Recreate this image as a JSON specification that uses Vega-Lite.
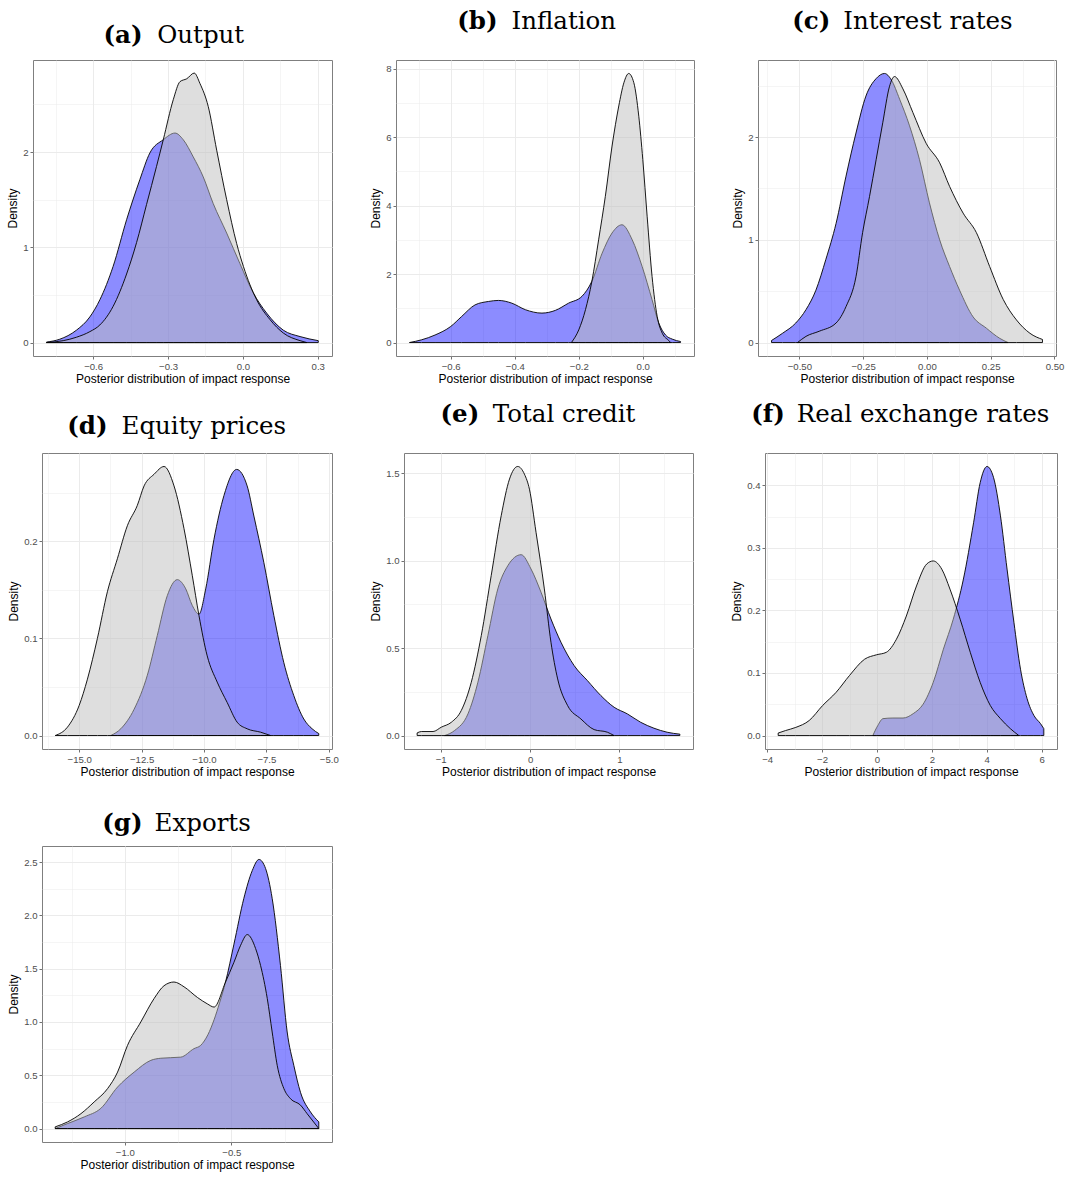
{
"$schema": "https://vega.github.io/schema/vega-lite/v6.json",
"background": "white",
"padding": {"left": 6, "top": 7, "right": 5, "bottom": 5},
"datasets": {
"a": [
{"dist":"D1","x":-0.787,"y":0.005},{"dist":"D1","x":-0.734,"y":0.035},{"dist":"D1","x":-0.667,"y":0.13},{"dist":"D1","x":-0.613,"y":0.27},{"dist":"D1","x":-0.573,"y":0.45},{"dist":"D1","x":-0.52,"y":0.80},{"dist":"D1","x":-0.466,"y":1.29},{"dist":"D1","x":-0.413,"y":1.71},{"dist":"D1","x":-0.373,"y":1.99},{"dist":"D1","x":-0.319,"y":2.13},{"dist":"D1","x":-0.272,"y":2.20},{"dist":"D1","x":-0.239,"y":2.13},{"dist":"D1","x":-0.199,"y":1.95},{"dist":"D1","x":-0.159,"y":1.74},{"dist":"D1","x":-0.119,"y":1.46},{"dist":"D1","x":-0.065,"y":1.15},{"dist":"D1","x":-0.012,"y":0.83},{"dist":"D1","x":0.042,"y":0.52},{"dist":"D1","x":0.095,"y":0.31},{"dist":"D1","x":0.162,"y":0.13},{"dist":"D1","x":0.229,"y":0.063},{"dist":"D1","x":0.302,"y":0.02},
{"dist":"D2","x":-0.787,"y":0.0},{"dist":"D2","x":-0.72,"y":0.02},{"dist":"D2","x":-0.667,"y":0.056},{"dist":"D2","x":-0.613,"y":0.115},{"dist":"D2","x":-0.573,"y":0.185},{"dist":"D2","x":-0.52,"y":0.38},{"dist":"D2","x":-0.466,"y":0.72},{"dist":"D2","x":-0.426,"y":1.05},{"dist":"D2","x":-0.386,"y":1.45},{"dist":"D2","x":-0.346,"y":1.85},{"dist":"D2","x":-0.319,"y":2.13},{"dist":"D2","x":-0.279,"y":2.55},{"dist":"D2","x":-0.252,"y":2.74},{"dist":"D2","x":-0.225,"y":2.77},{"dist":"D2","x":-0.195,"y":2.83},{"dist":"D2","x":-0.172,"y":2.72},{"dist":"D2","x":-0.139,"y":2.48},{"dist":"D2","x":-0.105,"y":2.02},{"dist":"D2","x":-0.065,"y":1.50},{"dist":"D2","x":-0.025,"y":1.04},{"dist":"D2","x":0.002,"y":0.80},{"dist":"D2","x":0.055,"y":0.45},{"dist":"D2","x":0.109,"y":0.24},{"dist":"D2","x":0.162,"y":0.10},{"dist":"D2","x":0.229,"y":0.02},{"dist":"D2","x":0.256,"y":0.0}
],
"b": [
{"dist":"D1","x":-0.729,"y":0.0},{"dist":"D1","x":-0.691,"y":0.08},{"dist":"D1","x":-0.649,"y":0.22},{"dist":"D1","x":-0.6,"y":0.47},{"dist":"D1","x":-0.566,"y":0.76},{"dist":"D1","x":-0.524,"y":1.10},{"dist":"D1","x":-0.482,"y":1.20},{"dist":"D1","x":-0.451,"y":1.23},{"dist":"D1","x":-0.409,"y":1.15},{"dist":"D1","x":-0.367,"y":0.96},{"dist":"D1","x":-0.315,"y":0.86},{"dist":"D1","x":-0.273,"y":0.94},{"dist":"D1","x":-0.232,"y":1.15},{"dist":"D1","x":-0.19,"y":1.35},{"dist":"D1","x":-0.159,"y":1.79},{"dist":"D1","x":-0.127,"y":2.61},{"dist":"D1","x":-0.096,"y":3.2},{"dist":"D1","x":-0.065,"y":3.44},{"dist":"D1","x":-0.033,"y":3.0},{"dist":"D1","x":-0.002,"y":2.22},{"dist":"D1","x":0.029,"y":1.25},{"dist":"D1","x":0.05,"y":0.57},{"dist":"D1","x":0.071,"y":0.22},{"dist":"D1","x":0.092,"y":0.10},{"dist":"D1","x":0.118,"y":0.03},
{"dist":"D2","x":-0.223,"y":0.0},{"dist":"D2","x":-0.2,"y":0.37},{"dist":"D2","x":-0.179,"y":0.96},{"dist":"D2","x":-0.159,"y":1.79},{"dist":"D2","x":-0.138,"y":3.0},{"dist":"D2","x":-0.117,"y":4.27},{"dist":"D2","x":-0.096,"y":5.74},{"dist":"D2","x":-0.075,"y":6.91},{"dist":"D2","x":-0.059,"y":7.59},{"dist":"D2","x":-0.044,"y":7.86},{"dist":"D2","x":-0.028,"y":7.59},{"dist":"D2","x":-0.0125,"y":6.61},{"dist":"D2","x":0.0,"y":5.35},{"dist":"D2","x":0.0136,"y":3.69},{"dist":"D2","x":0.029,"y":1.93},{"dist":"D2","x":0.045,"y":0.76},{"dist":"D2","x":0.061,"y":0.27},{"dist":"D2","x":0.081,"y":0.06},{"dist":"D2","x":0.087,"y":0.0}
],
"c": [
{"dist":"D1","x":-0.609,"y":0.02},{"dist":"D1","x":-0.566,"y":0.09},{"dist":"D1","x":-0.514,"y":0.19},{"dist":"D1","x":-0.474,"y":0.32},{"dist":"D1","x":-0.435,"y":0.51},{"dist":"D1","x":-0.396,"y":0.81},{"dist":"D1","x":-0.356,"y":1.16},{"dist":"D1","x":-0.317,"y":1.62},{"dist":"D1","x":-0.278,"y":2.04},{"dist":"D1","x":-0.239,"y":2.40},{"dist":"D1","x":-0.199,"y":2.57},{"dist":"D1","x":-0.166,"y":2.62},{"dist":"D1","x":-0.14,"y":2.56},{"dist":"D1","x":-0.107,"y":2.37},{"dist":"D1","x":-0.068,"y":2.11},{"dist":"D1","x":-0.029,"y":1.78},{"dist":"D1","x":0.01,"y":1.36},{"dist":"D1","x":0.05,"y":1.0},{"dist":"D1","x":0.089,"y":0.74},{"dist":"D1","x":0.128,"y":0.51},{"dist":"D1","x":0.181,"y":0.25},{"dist":"D1","x":0.233,"y":0.14},{"dist":"D1","x":0.286,"y":0.04},{"dist":"D1","x":0.318,"y":0.0},
{"dist":"D2","x":-0.507,"y":0.0},{"dist":"D2","x":-0.474,"y":0.06},{"dist":"D2","x":-0.422,"y":0.11},{"dist":"D2","x":-0.356,"y":0.19},{"dist":"D2","x":-0.317,"y":0.35},{"dist":"D2","x":-0.278,"y":0.64},{"dist":"D2","x":-0.252,"y":1.07},{"dist":"D2","x":-0.225,"y":1.42},{"dist":"D2","x":-0.199,"y":1.78},{"dist":"D2","x":-0.173,"y":2.14},{"dist":"D2","x":-0.147,"y":2.49},{"dist":"D2","x":-0.127,"y":2.59},{"dist":"D2","x":-0.094,"y":2.47},{"dist":"D2","x":-0.055,"y":2.24},{"dist":"D2","x":-0.003,"y":1.94},{"dist":"D2","x":0.05,"y":1.75},{"dist":"D2","x":0.089,"y":1.52},{"dist":"D2","x":0.142,"y":1.26},{"dist":"D2","x":0.194,"y":1.07},{"dist":"D2","x":0.246,"y":0.74},{"dist":"D2","x":0.299,"y":0.42},{"dist":"D2","x":0.351,"y":0.22},{"dist":"D2","x":0.404,"y":0.09},{"dist":"D2","x":0.453,"y":0.03}
],
"d": [
{"dist":"D1","x":-13.73,"y":0.0},{"dist":"D1","x":-13.33,"y":0.007},{"dist":"D1","x":-12.8,"y":0.027},{"dist":"D1","x":-12.27,"y":0.062},{"dist":"D1","x":-11.87,"y":0.103},{"dist":"D1","x":-11.47,"y":0.144},{"dist":"D1","x":-11.07,"y":0.1605},{"dist":"D1","x":-10.73,"y":0.151},{"dist":"D1","x":-10.47,"y":0.134},{"dist":"D1","x":-10.2,"y":0.125},{"dist":"D1","x":-9.93,"y":0.151},{"dist":"D1","x":-9.6,"y":0.202},{"dist":"D1","x":-9.2,"y":0.247},{"dist":"D1","x":-8.69,"y":0.274},{"dist":"D1","x":-8.27,"y":0.257},{"dist":"D1","x":-8.0,"y":0.226},{"dist":"D1","x":-7.6,"y":0.178},{"dist":"D1","x":-7.2,"y":0.1235},{"dist":"D1","x":-6.8,"y":0.075},{"dist":"D1","x":-6.4,"y":0.041},{"dist":"D1","x":-6.0,"y":0.017},{"dist":"D1","x":-5.67,"y":0.007},{"dist":"D1","x":-5.4,"y":0.002},
{"dist":"D2","x":-15.96,"y":0.0},{"dist":"D2","x":-15.47,"y":0.0086},{"dist":"D2","x":-15.0,"y":0.031},{"dist":"D2","x":-14.67,"y":0.058},{"dist":"D2","x":-14.27,"y":0.10},{"dist":"D2","x":-13.87,"y":0.148},{"dist":"D2","x":-13.47,"y":0.182},{"dist":"D2","x":-13.07,"y":0.216},{"dist":"D2","x":-12.67,"y":0.237},{"dist":"D2","x":-12.4,"y":0.257},{"dist":"D2","x":-12.0,"y":0.269},{"dist":"D2","x":-11.6,"y":0.277},{"dist":"D2","x":-11.2,"y":0.257},{"dist":"D2","x":-10.8,"y":0.213},{"dist":"D2","x":-10.47,"y":0.165},{"dist":"D2","x":-10.2,"y":0.1235},{"dist":"D2","x":-9.87,"y":0.082},{"dist":"D2","x":-9.47,"y":0.055},{"dist":"D2","x":-9.07,"y":0.034},{"dist":"D2","x":-8.67,"y":0.0137},{"dist":"D2","x":-8.27,"y":0.0069},{"dist":"D2","x":-7.73,"y":0.0034},{"dist":"D2","x":-7.33,"y":0.0}
],
"e": [
{"dist":"D1","x":-0.955,"y":0.0},{"dist":"D1","x":-0.844,"y":0.029},{"dist":"D1","x":-0.695,"y":0.124},{"dist":"D1","x":-0.584,"y":0.305},{"dist":"D1","x":-0.472,"y":0.572},{"dist":"D1","x":-0.361,"y":0.839},{"dist":"D1","x":-0.249,"y":0.972},{"dist":"D1","x":-0.1,"y":1.035},{"dist":"D1","x":0.011,"y":0.953},{"dist":"D1","x":0.123,"y":0.82},{"dist":"D1","x":0.234,"y":0.667},{"dist":"D1","x":0.346,"y":0.534},{"dist":"D1","x":0.494,"y":0.40},{"dist":"D1","x":0.643,"y":0.314},{"dist":"D1","x":0.792,"y":0.229},{"dist":"D1","x":0.941,"y":0.162},{"dist":"D1","x":1.089,"y":0.124},{"dist":"D1","x":1.238,"y":0.076},{"dist":"D1","x":1.387,"y":0.042},{"dist":"D1","x":1.535,"y":0.019},{"dist":"D1","x":1.677,"y":0.008},
{"dist":"D2","x":-1.264,"y":0.015},{"dist":"D2","x":-1.216,"y":0.023},{"dist":"D2","x":-1.086,"y":0.023},{"dist":"D2","x":-0.993,"y":0.048},{"dist":"D2","x":-0.881,"y":0.076},{"dist":"D2","x":-0.77,"y":0.143},{"dist":"D2","x":-0.658,"y":0.305},{"dist":"D2","x":-0.546,"y":0.572},{"dist":"D2","x":-0.435,"y":0.915},{"dist":"D2","x":-0.323,"y":1.258},{"dist":"D2","x":-0.23,"y":1.468},{"dist":"D2","x":-0.138,"y":1.54},{"dist":"D2","x":-0.063,"y":1.496},{"dist":"D2","x":-0.007,"y":1.41},{"dist":"D2","x":0.067,"y":1.163},{"dist":"D2","x":0.16,"y":0.839},{"dist":"D2","x":0.234,"y":0.534},{"dist":"D2","x":0.309,"y":0.324},{"dist":"D2","x":0.42,"y":0.172},{"dist":"D2","x":0.569,"y":0.095},{"dist":"D2","x":0.717,"y":0.034},{"dist":"D2","x":0.866,"y":0.019},{"dist":"D2","x":0.94,"y":0.0}
],
"f": [
{"dist":"D1","x":-0.15,"y":0.0},{"dist":"D1","x":0.03,"y":0.016},{"dist":"D1","x":0.22,"y":0.027},{"dist":"D1","x":0.58,"y":0.028},{"dist":"D1","x":0.95,"y":0.028},{"dist":"D1","x":1.32,"y":0.035},{"dist":"D1","x":1.68,"y":0.05},{"dist":"D1","x":2.05,"y":0.085},{"dist":"D1","x":2.42,"y":0.138},{"dist":"D1","x":2.78,"y":0.186},{"dist":"D1","x":3.15,"y":0.25},{"dist":"D1","x":3.52,"y":0.34},{"dist":"D1","x":3.76,"y":0.404},{"dist":"D1","x":4.01,"y":0.43},{"dist":"D1","x":4.25,"y":0.412},{"dist":"D1","x":4.5,"y":0.351},{"dist":"D1","x":4.74,"y":0.266},{"dist":"D1","x":4.99,"y":0.181},{"dist":"D1","x":5.23,"y":0.106},{"dist":"D1","x":5.47,"y":0.059},{"dist":"D1","x":5.72,"y":0.032},{"dist":"D1","x":5.96,"y":0.019},{"dist":"D1","x":6.08,"y":0.011},
{"dist":"D2","x":-3.6,"y":0.004},{"dist":"D2","x":-3.33,"y":0.008},{"dist":"D2","x":-2.96,"y":0.013},{"dist":"D2","x":-2.47,"y":0.024},{"dist":"D2","x":-1.98,"y":0.048},{"dist":"D2","x":-1.49,"y":0.069},{"dist":"D2","x":-1.0,"y":0.096},{"dist":"D2","x":-0.45,"y":0.122},{"dist":"D2","x":-0.02,"y":0.129},{"dist":"D2","x":0.34,"y":0.133},{"dist":"D2","x":0.71,"y":0.154},{"dist":"D2","x":1.07,"y":0.191},{"dist":"D2","x":1.44,"y":0.239},{"dist":"D2","x":1.81,"y":0.274},{"dist":"D2","x":2.05,"y":0.279},{"dist":"D2","x":2.36,"y":0.266},{"dist":"D2","x":2.66,"y":0.234},{"dist":"D2","x":3.03,"y":0.186},{"dist":"D2","x":3.4,"y":0.133},{"dist":"D2","x":3.76,"y":0.085},{"dist":"D2","x":4.13,"y":0.048},{"dist":"D2","x":4.5,"y":0.027},{"dist":"D2","x":4.86,"y":0.011},{"dist":"D2","x":5.17,"y":0.0}
],
"g": [
{"dist":"D1","x":-1.327,"y":0.0},{"dist":"D1","x":-1.269,"y":0.047},{"dist":"D1","x":-1.19,"y":0.11},{"dist":"D1","x":-1.1125,"y":0.19},{"dist":"D1","x":-1.034,"y":0.39},{"dist":"D1","x":-0.956,"y":0.53},{"dist":"D1","x":-0.878,"y":0.64},{"dist":"D1","x":-0.831,"y":0.66},{"dist":"D1","x":-0.7375,"y":0.67},{"dist":"D1","x":-0.675,"y":0.75},{"dist":"D1","x":-0.644,"y":0.78},{"dist":"D1","x":-0.61,"y":0.88},{"dist":"D1","x":-0.581,"y":1.02},{"dist":"D1","x":-0.555,"y":1.18},{"dist":"D1","x":-0.527,"y":1.375},{"dist":"D1","x":-0.4875,"y":1.73},{"dist":"D1","x":-0.441,"y":2.16},{"dist":"D1","x":-0.4016,"y":2.42},{"dist":"D1","x":-0.37,"y":2.525},{"dist":"D1","x":-0.339,"y":2.44},{"dist":"D1","x":-0.308,"y":2.16},{"dist":"D1","x":-0.269,"y":1.53},{"dist":"D1","x":-0.2375,"y":0.906},{"dist":"D1","x":-0.206,"y":0.59},{"dist":"D1","x":-0.175,"y":0.34},{"dist":"D1","x":-0.128,"y":0.156},{"dist":"D1","x":-0.089,"y":0.0625},
{"dist":"D2","x":-1.327,"y":0.016},{"dist":"D2","x":-1.269,"y":0.0625},{"dist":"D2","x":-1.206,"y":0.14},{"dist":"D2","x":-1.144,"y":0.25},{"dist":"D2","x":-1.081,"y":0.375},{"dist":"D2","x":-1.034,"y":0.53},{"dist":"D2","x":-0.9875,"y":0.78},{"dist":"D2","x":-0.925,"y":1.0},{"dist":"D2","x":-0.8625,"y":1.22},{"dist":"D2","x":-0.816,"y":1.34},{"dist":"D2","x":-0.769,"y":1.375},{"dist":"D2","x":-0.722,"y":1.33},{"dist":"D2","x":-0.659,"y":1.23},{"dist":"D2","x":-0.6125,"y":1.17},{"dist":"D2","x":-0.581,"y":1.14},{"dist":"D2","x":-0.527,"y":1.375},{"dist":"D2","x":-0.4875,"y":1.56},{"dist":"D2","x":-0.456,"y":1.72},{"dist":"D2","x":-0.425,"y":1.82},{"dist":"D2","x":-0.386,"y":1.69},{"dist":"D2","x":-0.3625,"y":1.53},{"dist":"D2","x":-0.331,"y":1.22},{"dist":"D2","x":-0.308,"y":0.906},{"dist":"D2","x":-0.284,"y":0.59},{"dist":"D2","x":-0.253,"y":0.375},{"dist":"D2","x":-0.222,"y":0.28},{"dist":"D2","x":-0.175,"y":0.22},{"dist":"D2","x":-0.144,"y":0.14},{"dist":"D2","x":-0.089,"y":0.0}
]
},
"concat": [
{
"concat": [
{
"hconcat": [
{
"width": 299, "height": 296,
"data": {"name": "a"},
"resolve": {"axis": {"x": "independent", "y": "independent"}},
"layer": [
{"transform": [{"filter": "datum.dist == 'D1'"}],
 "mark": {"type": "area", "interpolate": "monotone", "fill": "#0000ff", "fillOpacity": 0.45, "stroke": "#000000", "strokeWidth": 0.9},
 "encoding": {
 "x": {"field": "x", "type": "quantitative", "scale": {"domain": [-0.841, 0.357], "nice": false, "zero": false},
  "axis": {"title": "Posterior distribution of impact response", "values": [-0.75, -0.6, -0.45, -0.3, -0.15, 0, 0.15, 0.3],
  "labelExpr": "indexof([-0.6,-0.3,0,0.3], datum.value) >= 0 ? format(datum.value, '.1f') : ''",
  "tickOpacity": {"condition": {"test": "indexof([-0.6,-0.3,0,0.3], datum.value) < 0", "value": 0}, "value": 1},
  "gridWidth": {"condition": {"test": "indexof([-0.6,-0.3,0,0.3], datum.value) < 0", "value": 0.5}, "value": 1}}},
 "y": {"field": "y", "type": "quantitative", "scale": {"domain": [-0.141, 2.967], "nice": false, "zero": false},
  "axis": {"title": "Density", "values": [0, 0.5, 1, 1.5, 2, 2.5],
  "labelExpr": "indexof([0,1,2], datum.value) >= 0 ? format(datum.value, 'd') : ''",
  "tickOpacity": {"condition": {"test": "indexof([0,1,2], datum.value) < 0", "value": 0}, "value": 1},
  "gridWidth": {"condition": {"test": "indexof([0,1,2], datum.value) < 0", "value": 0.5}, "value": 1}}},
 "y2": {"datum": 0}}},
{"transform": [{"filter": "datum.dist == 'D2'"}],
 "mark": {"type": "area", "interpolate": "monotone", "fill": "#bebebe", "fillOpacity": 0.5, "stroke": "#000000", "strokeWidth": 0.9},
 "encoding": {
 "x": {"field": "x", "type": "quantitative", "scale": {"domain": [-0.841, 0.357], "nice": false, "zero": false},
  "axis": {"orient": "top", "title": "Output", "labels": false, "ticks": false, "grid": false, "style": "wordtitle", "titleX": 123.7, "titleY": -17.3}},
 "y": {"field": "y", "type": "quantitative", "scale": {"domain": [-0.141, 2.967], "nice": false, "zero": false},
  "axis": {"orient": "right", "title": "(a)", "labels": false, "ticks": false, "grid": false, "style": "boldtitle", "titleX": -229, "titleY": -17.3}},
 "y2": {"datum": 0}}}
]
},
{
"width": 298, "height": 296,
"data": {"name": "b"},
"resolve": {"axis": {"x": "independent", "y": "independent"}},
"layer": [
{"transform": [{"filter": "datum.dist == 'D1'"}],
 "mark": {"type": "area", "interpolate": "monotone", "fill": "#0000ff", "fillOpacity": 0.45, "stroke": "#000000", "strokeWidth": 0.9},
 "encoding": {
 "x": {"field": "x", "type": "quantitative", "scale": {"domain": [-0.771, 0.160], "nice": false, "zero": false},
  "axis": {"title": "Posterior distribution of impact response", "values": [-0.7, -0.6, -0.5, -0.4, -0.3, -0.2, -0.1, 0, 0.1],
  "labelExpr": "indexof([-0.6,-0.4,-0.2,0], datum.value) >= 0 ? format(datum.value, '.1f') : ''",
  "tickOpacity": {"condition": {"test": "indexof([-0.6,-0.4,-0.2,0], datum.value) < 0", "value": 0}, "value": 1},
  "gridWidth": {"condition": {"test": "indexof([-0.6,-0.4,-0.2,0], datum.value) < 0", "value": 0.5}, "value": 1}}},
 "y": {"field": "y", "type": "quantitative", "scale": {"domain": [-0.393, 8.253], "nice": false, "zero": false},
  "axis": {"title": "Density", "values": [0, 1, 2, 3, 4, 5, 6, 7, 8],
  "labelExpr": "indexof([0,2,4,6,8], datum.value) >= 0 ? format(datum.value, 'd') : ''",
  "tickOpacity": {"condition": {"test": "indexof([0,2,4,6,8], datum.value) < 0", "value": 0}, "value": 1},
  "gridWidth": {"condition": {"test": "indexof([0,2,4,6,8], datum.value) < 0", "value": 0.5}, "value": 1}}},
 "y2": {"datum": 0}}},
{"transform": [{"filter": "datum.dist == 'D2'"}],
 "mark": {"type": "area", "interpolate": "monotone", "fill": "#bebebe", "fillOpacity": 0.5, "stroke": "#000000", "strokeWidth": 0.9},
 "encoding": {
 "x": {"field": "x", "type": "quantitative", "scale": {"domain": [-0.771, 0.160], "nice": false, "zero": false},
  "axis": {"orient": "top", "title": "Inflation", "labels": false, "ticks": false, "grid": false, "style": "wordtitle", "titleX": 115, "titleY": -31.7}},
 "y": {"field": "y", "type": "quantitative", "scale": {"domain": [-0.393, 8.253], "nice": false, "zero": false},
  "axis": {"orient": "right", "title": "(b)", "labels": false, "ticks": false, "grid": false, "style": "boldtitle", "titleX": -237.3, "titleY": -31.7}},
 "y2": {"datum": 0}}}
]
},
{
"width": 298, "height": 296,
"data": {"name": "c"},
"resolve": {"axis": {"x": "independent", "y": "independent"}},
"layer": [
{"transform": [{"filter": "datum.dist == 'D1'"}],
 "mark": {"type": "area", "interpolate": "monotone", "fill": "#0000ff", "fillOpacity": 0.45, "stroke": "#000000", "strokeWidth": 0.9},
 "encoding": {
 "x": {"field": "x", "type": "quantitative", "scale": {"domain": [-0.662, 0.506], "nice": false, "zero": false},
  "axis": {"title": "Posterior distribution of impact response", "values": [-0.625, -0.5, -0.375, -0.25, -0.125, 0, 0.125, 0.25, 0.375, 0.5],
  "labelExpr": "indexof([-0.5,-0.25,0,0.25,0.5], datum.value) >= 0 ? format(datum.value, '.2f') : ''",
  "tickOpacity": {"condition": {"test": "indexof([-0.5,-0.25,0,0.25,0.5], datum.value) < 0", "value": 0}, "value": 1},
  "gridWidth": {"condition": {"test": "indexof([-0.5,-0.25,0,0.25,0.5], datum.value) < 0", "value": 0.5}, "value": 1}}},
 "y": {"field": "y", "type": "quantitative", "scale": {"domain": [-0.131, 2.751], "nice": false, "zero": false},
  "axis": {"title": "Density", "values": [0, 0.5, 1, 1.5, 2, 2.5],
  "labelExpr": "indexof([0,1,2], datum.value) >= 0 ? format(datum.value, 'd') : ''",
  "tickOpacity": {"condition": {"test": "indexof([0,1,2], datum.value) < 0", "value": 0}, "value": 1},
  "gridWidth": {"condition": {"test": "indexof([0,1,2], datum.value) < 0", "value": 0.5}, "value": 1}}},
 "y2": {"datum": 0}}},
{"transform": [{"filter": "datum.dist == 'D2'"}],
 "mark": {"type": "area", "interpolate": "monotone", "fill": "#bebebe", "fillOpacity": 0.5, "stroke": "#000000", "strokeWidth": 0.9},
 "encoding": {
 "x": {"field": "x", "type": "quantitative", "scale": {"domain": [-0.662, 0.506], "nice": false, "zero": false},
  "axis": {"orient": "top", "title": "Interest rates", "labels": false, "ticks": false, "grid": false, "style": "wordtitle", "titleX": 84.7, "titleY": -31.7}},
 "y": {"field": "y", "type": "quantitative", "scale": {"domain": [-0.131, 2.751], "nice": false, "zero": false},
  "axis": {"orient": "right", "title": "(c)", "labels": false, "ticks": false, "grid": false, "style": "boldtitle", "titleX": -264.3, "titleY": -31.7}},
 "y2": {"datum": 0}}}
]
}
],
"spacing": 64, "bounds": "flush"
},
{
"hconcat": [
{"width": 1, "height": 1, "data": {"values": []}, "mark": "point", "encoding": {}, "view": {"stroke": null}},
{
"hconcat": [
{
"width": 290, "height": 296,
"data": {"name": "d"},
"resolve": {"axis": {"x": "independent", "y": "independent"}},
"layer": [
{"transform": [{"filter": "datum.dist == 'D1'"}],
 "mark": {"type": "area", "interpolate": "monotone", "fill": "#0000ff", "fillOpacity": 0.45, "stroke": "#000000", "strokeWidth": 0.9},
 "encoding": {
 "x": {"field": "x", "type": "quantitative", "scale": {"domain": [-16.49, -4.87], "nice": false, "zero": false},
  "axis": {"title": "Posterior distribution of impact response", "values": [-16.25, -15, -13.75, -12.5, -11.25, -10, -8.75, -7.5, -6.25, -5],
  "labelExpr": "indexof([-15,-12.5,-10,-7.5,-5], datum.value) >= 0 ? format(datum.value, '.1f') : ''",
  "tickOpacity": {"condition": {"test": "indexof([-15,-12.5,-10,-7.5,-5], datum.value) < 0", "value": 0}, "value": 1},
  "gridWidth": {"condition": {"test": "indexof([-15,-12.5,-10,-7.5,-5], datum.value) < 0", "value": 0.5}, "value": 1}}},
 "y": {"field": "y", "type": "quantitative", "scale": {"domain": [-0.0139, 0.2909], "nice": false, "zero": false},
  "axis": {"title": "Density", "values": [0, 0.05, 0.1, 0.15, 0.2, 0.25],
  "labelExpr": "indexof([0,0.1,0.2], datum.value) >= 0 ? format(datum.value, '.1f') : ''",
  "tickOpacity": {"condition": {"test": "indexof([0,0.1,0.2], datum.value) < 0", "value": 0}, "value": 1},
  "gridWidth": {"condition": {"test": "indexof([0,0.1,0.2], datum.value) < 0", "value": 0.5}, "value": 1}}},
 "y2": {"datum": 0}}},
{"transform": [{"filter": "datum.dist == 'D2'"}],
 "mark": {"type": "area", "interpolate": "monotone", "fill": "#bebebe", "fillOpacity": 0.5, "stroke": "#000000", "strokeWidth": 0.9},
 "encoding": {
 "x": {"field": "x", "type": "quantitative", "scale": {"domain": [-16.49, -4.87], "nice": false, "zero": false},
  "axis": {"orient": "top", "title": "Equity prices", "labels": false, "ticks": false, "grid": false, "style": "wordtitle", "titleX": 79, "titleY": -19.7}},
 "y": {"field": "y", "type": "quantitative", "scale": {"domain": [-0.0139, 0.2909], "nice": false, "zero": false},
  "axis": {"orient": "right", "title": "(d)", "labels": false, "ticks": false, "grid": false, "style": "boldtitle", "titleX": -265.3, "titleY": -19.7}},
 "y2": {"datum": 0}}}
]
},
{
"width": 289, "height": 296,
"data": {"name": "e"},
"resolve": {"axis": {"x": "independent", "y": "independent"}},
"layer": [
{"transform": [{"filter": "datum.dist == 'D1'"}],
 "mark": {"type": "area", "interpolate": "monotone", "fill": "#0000ff", "fillOpacity": 0.45, "stroke": "#000000", "strokeWidth": 0.9},
 "encoding": {
 "x": {"field": "x", "type": "quantitative", "scale": {"domain": [-1.411, 1.824], "nice": false, "zero": false},
  "axis": {"title": "Posterior distribution of impact response", "values": [-1, -0.5, 0, 0.5, 1, 1.5],
  "labelExpr": "indexof([-1,0,1], datum.value) >= 0 ? format(datum.value, 'd') : ''",
  "tickOpacity": {"condition": {"test": "indexof([-1,0,1], datum.value) < 0", "value": 0}, "value": 1},
  "gridWidth": {"condition": {"test": "indexof([-1,0,1], datum.value) < 0", "value": 0.5}, "value": 1}}},
 "y": {"field": "y", "type": "quantitative", "scale": {"domain": [-0.077, 1.617], "nice": false, "zero": false},
  "axis": {"title": "Density", "values": [0, 0.25, 0.5, 0.75, 1, 1.25, 1.5],
  "labelExpr": "indexof([0,0.5,1,1.5], datum.value) >= 0 ? format(datum.value, '.1f') : ''",
  "tickOpacity": {"condition": {"test": "indexof([0,0.5,1,1.5], datum.value) < 0", "value": 0}, "value": 1},
  "gridWidth": {"condition": {"test": "indexof([0,0.5,1,1.5], datum.value) < 0", "value": 0.5}, "value": 1}}},
 "y2": {"datum": 0}}},
{"transform": [{"filter": "datum.dist == 'D2'"}],
 "mark": {"type": "area", "interpolate": "monotone", "fill": "#bebebe", "fillOpacity": 0.5, "stroke": "#000000", "strokeWidth": 0.9},
 "encoding": {
 "x": {"field": "x", "type": "quantitative", "scale": {"domain": [-1.411, 1.824], "nice": false, "zero": false},
  "axis": {"orient": "top", "title": "Total credit", "labels": false, "ticks": false, "grid": false, "style": "wordtitle", "titleX": 88.3, "titleY": -31.3}},
 "y": {"field": "y", "type": "quantitative", "scale": {"domain": [-0.077, 1.617], "nice": false, "zero": false},
  "axis": {"orient": "right", "title": "(e)", "labels": false, "ticks": false, "grid": false, "style": "boldtitle", "titleX": -253, "titleY": -31.3}},
 "y2": {"datum": 0}}}
]
},
{
"width": 292, "height": 296,
"data": {"name": "f"},
"resolve": {"axis": {"x": "independent", "y": "independent"}},
"layer": [
{"transform": [{"filter": "datum.dist == 'D1'"}],
 "mark": {"type": "area", "interpolate": "monotone", "fill": "#0000ff", "fillOpacity": 0.45, "stroke": "#000000", "strokeWidth": 0.9},
 "encoding": {
 "x": {"field": "x", "type": "quantitative", "scale": {"domain": [-4.08, 6.56], "nice": false, "zero": false},
  "axis": {"title": "Posterior distribution of impact response", "values": [-4, -3, -2, -1, 0, 1, 2, 3, 4, 5, 6],
  "labelExpr": "indexof([-4,-2,0,2,4,6], datum.value) >= 0 ? format(datum.value, 'd') : ''",
  "tickOpacity": {"condition": {"test": "indexof([-4,-2,0,2,4,6], datum.value) < 0", "value": 0}, "value": 1},
  "gridWidth": {"condition": {"test": "indexof([-4,-2,0,2,4,6], datum.value) < 0", "value": 0.5}, "value": 1}}},
 "y": {"field": "y", "type": "quantitative", "scale": {"domain": [-0.0215, 0.4515], "nice": false, "zero": false},
  "axis": {"title": "Density", "values": [0, 0.05, 0.1, 0.15, 0.2, 0.25, 0.3, 0.35, 0.4],
  "labelExpr": "indexof([0,0.1,0.2,0.3,0.4], datum.value) >= 0 ? format(datum.value, '.1f') : ''",
  "tickOpacity": {"condition": {"test": "indexof([0,0.1,0.2,0.3,0.4], datum.value) < 0", "value": 0}, "value": 1},
  "gridWidth": {"condition": {"test": "indexof([0,0.1,0.2,0.3,0.4], datum.value) < 0", "value": 0.5}, "value": 1}}},
 "y2": {"datum": 0}}},
{"transform": [{"filter": "datum.dist == 'D2'"}],
 "mark": {"type": "area", "interpolate": "monotone", "fill": "#bebebe", "fillOpacity": 0.5, "stroke": "#000000", "strokeWidth": 0.9},
 "encoding": {
 "x": {"field": "x", "type": "quantitative", "scale": {"domain": [-4.08, 6.56], "nice": false, "zero": false},
  "axis": {"orient": "top", "title": "Real exchange rates", "labels": false, "ticks": false, "grid": false, "style": "wordtitle", "titleX": 31.3, "titleY": -31.3}},
 "y": {"field": "y", "type": "quantitative", "scale": {"domain": [-0.0215, 0.4515], "nice": false, "zero": false},
  "axis": {"orient": "right", "title": "(f)", "labels": false, "ticks": false, "grid": false, "style": "boldtitle", "titleX": -306.3, "titleY": -31.3}},
 "y2": {"datum": 0}}}
]
}
],
"spacing": 72, "bounds": "flush"
}
],
"spacing": 8, "bounds": "flush"
}
],
"columns": 1, "align": "none", "spacing": 15
},
{
"hconcat": [
{"width": 1, "height": 1, "data": {"values": []}, "mark": "point", "encoding": {}, "view": {"stroke": null}},
{
"width": 290, "height": 296,
"data": {"name": "g"},
"resolve": {"axis": {"x": "independent", "y": "independent"}},
"layer": [
{"transform": [{"filter": "datum.dist == 'D1'"}],
 "mark": {"type": "area", "interpolate": "monotone", "fill": "#0000ff", "fillOpacity": 0.45, "stroke": "#000000", "strokeWidth": 0.9},
 "encoding": {
 "x": {"field": "x", "type": "quantitative", "scale": {"domain": [-1.389, -0.027], "nice": false, "zero": false},
  "axis": {"title": "Posterior distribution of impact response", "values": [-1.25, -1, -0.75, -0.5, -0.25],
  "labelExpr": "indexof([-1,-0.5], datum.value) >= 0 ? format(datum.value, '.1f') : ''",
  "tickOpacity": {"condition": {"test": "indexof([-1,-0.5], datum.value) < 0", "value": 0}, "value": 1},
  "gridWidth": {"condition": {"test": "indexof([-1,-0.5], datum.value) < 0", "value": 0.5}, "value": 1}}},
 "y": {"field": "y", "type": "quantitative", "scale": {"domain": [-0.126, 2.651], "nice": false, "zero": false},
  "axis": {"title": "Density", "values": [0, 0.25, 0.5, 0.75, 1, 1.25, 1.5, 1.75, 2, 2.25, 2.5],
  "labelExpr": "indexof([0,0.5,1,1.5,2,2.5], datum.value) >= 0 ? format(datum.value, '.1f') : ''",
  "tickOpacity": {"condition": {"test": "indexof([0,0.5,1,1.5,2,2.5], datum.value) < 0", "value": 0}, "value": 1},
  "gridWidth": {"condition": {"test": "indexof([0,0.5,1,1.5,2,2.5], datum.value) < 0", "value": 0.5}, "value": 1}}},
 "y2": {"datum": 0}}},
{"transform": [{"filter": "datum.dist == 'D2'"}],
 "mark": {"type": "area", "interpolate": "monotone", "fill": "#bebebe", "fillOpacity": 0.5, "stroke": "#000000", "strokeWidth": 0.9},
 "encoding": {
 "x": {"field": "x", "type": "quantitative", "scale": {"domain": [-1.389, -0.027], "nice": false, "zero": false},
  "axis": {"orient": "top", "title": "Exports", "labels": false, "ticks": false, "grid": false, "style": "wordtitle", "titleX": 112, "titleY": -15.3}},
 "y": {"field": "y", "type": "quantitative", "scale": {"domain": [-0.126, 2.651], "nice": false, "zero": false},
  "axis": {"orient": "right", "title": "(g)", "labels": false, "ticks": false, "grid": false, "style": "boldtitle", "titleX": -230.3, "titleY": -15.3}},
 "y2": {"datum": 0}}}
]
}
],
"spacing": 8, "bounds": "flush"
}
],
"columns": 1, "align": "none", "spacing": 31,
"config": {
"font": "Liberation Sans",
"view": {"stroke": "#7f7f7f", "strokeWidth": 1},
"axis": {"domain": false, "gridColor": "#ebebeb", "tickColor": "#333333", "tickSize": 3, "tickWidth": 0.7,
 "labelFont": "Liberation Sans", "labelFontSize": 9.6, "labelColor": "#4d4d4d", "labelPadding": 2,
 "labelFlush": false, "labelOverlap": false, "labelBound": false,
 "titleFont": "Liberation Sans", "titleFontSize": 12, "titleFontWeight": "normal", "titleColor": "#000000"},
"axisX": {"titlePadding": 3},
"axisY": {"titlePadding": 3},
"style": {
 "wordtitle": {"titleFont": "DejaVu Serif", "titleFontSize": 24.5, "titleFontWeight": "normal", "titleColor": "#000000", "titleAngle": 0, "titleAlign": "left", "titleBaseline": "alphabetic", "titleAnchor": "start"},
 "boldtitle": {"titleFont": "DejaVu Serif", "titleFontSize": 24.5, "titleFontWeight": "bold", "titleColor": "#000000", "titleAngle": 0, "titleAlign": "left", "titleBaseline": "alphabetic", "titleAnchor": "start"}
}
}
}
